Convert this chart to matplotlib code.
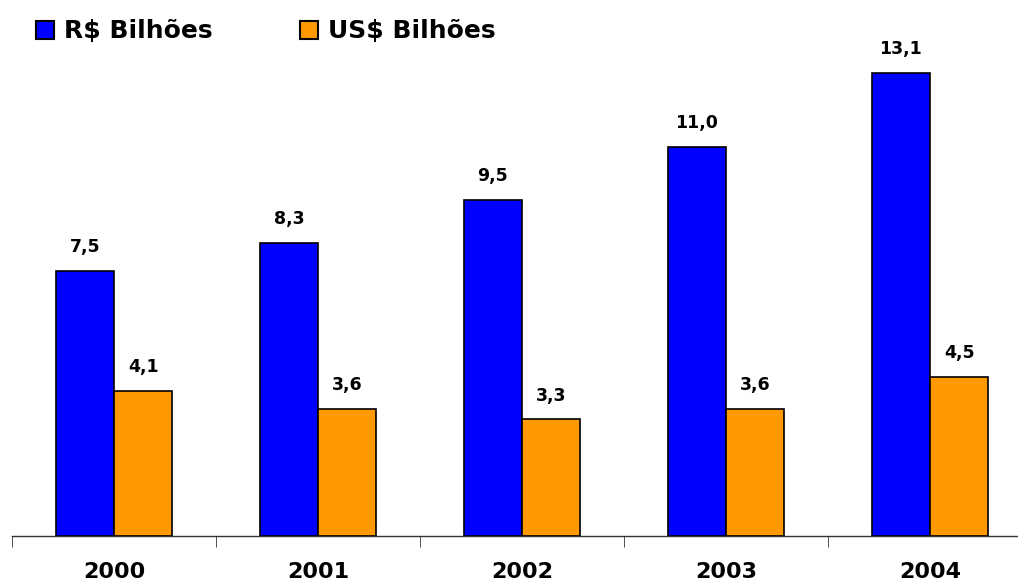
import numpy as np
import matplotlib.pyplot as plt
from matplotlib.patches import Patch

years = ['2000', '2001', '2002', '2003', '2004']
brl = [7.5, 8.3, 9.5, 11.0, 13.1]
usd = [4.1, 3.6, 3.3, 3.6, 4.5]
labels_brl = ['7,5', '8,3', '9,5', '11,0', '13,1']
labels_usd = ['4,1', '3,6', '3,3', '3,6', '4,5']

BLUE = '#0000FF'
ORANGE = '#FF9900'

fig = plt.figure(figsize=(10.18, 5.82), dpi=100)
W, H = 1018, 582
ax = fig.add_axes([12 / W, 1 - 536 / H, (W - 12) / W, 512.5 / H])

x = np.arange(len(years))
w = 0.285
ax.bar(x - w / 2, brl, w, color=BLUE, edgecolor='black', lw=1.2, zorder=3)
ax.bar(x + w / 2, usd, w, color=ORANGE, edgecolor='black', lw=1.2, zorder=3)

for xi, v, t in zip(x, brl, labels_brl):
    ax.text(xi - w / 2, v + 0.42, t, ha='center', va='bottom',
            fontsize=12.5, fontweight='bold')
for xi, v, t in zip(x, usd, labels_usd):
    ax.text(xi + w / 2, v + 0.42, t, ha='center', va='bottom',
            fontsize=12.5, fontweight='bold')

ax.set_xticks(x)
ax.set_xticklabels(years, fontsize=16, fontweight='bold')
ax.set_xticks(np.arange(-0.5, 5, 1), minor=True)
ax.set_xlim(-0.5, (W - 12) / 204 - 0.5)
ax.set_ylim(0, 14.5)
ax.tick_params(axis='x', which='major', length=0, pad=19)
ax.tick_params(axis='x', which='minor', length=8, color='#333333', direction='out')
ax.set_yticks([])
for s in ['top', 'right', 'left']:
    ax.spines[s].set_visible(False)
ax.spines['bottom'].set_color('#333333')
ax.spines['bottom'].set_linewidth(1)

handles = [Patch(facecolor=BLUE, edgecolor='black', lw=1.5, label='R$ Bilhões'),
           Patch(facecolor=ORANGE, edgecolor='black', lw=1.5, label='US$ Bilhões')]
fig.legend(handles=handles, loc='upper left', bbox_to_anchor=(23 / W, 1 - 7 / H),
           ncol=2, frameon=False, borderpad=0, handlelength=0.72, handleheight=0.72,
           handletextpad=0.4, columnspacing=3.5,
           prop={'size': 18, 'weight': 'bold'})

fig.savefig('out.png', dpi=100)
